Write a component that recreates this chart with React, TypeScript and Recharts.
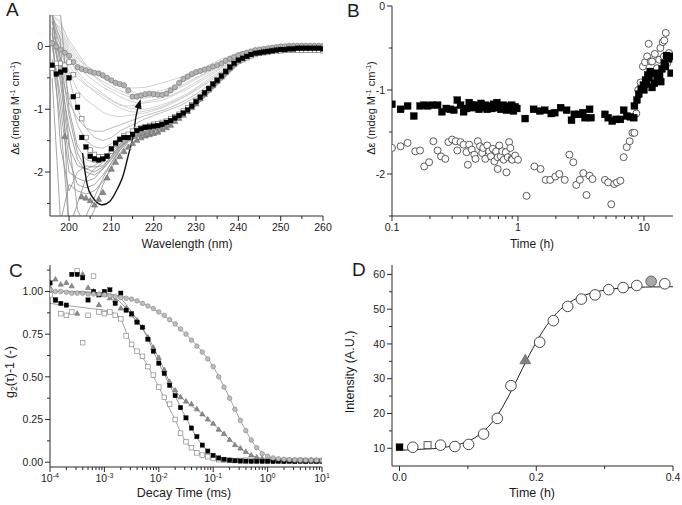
import React from 'react';
import { ComposedChart, Line, Scatter, XAxis, YAxis } from 'recharts';

const FONT = 'Arial, "Liberation Sans", sans-serif';
const AXIS = '#2a2a2a';
const TEXT = '#1c1c1c';

// ---------- Panel A: CD spectra ----------
const aGridWl = [196, 198, 200, 202, 204, 206, 208, 210, 212, 214, 216, 218, 220, 222, 224, 226, 228, 230, 233, 236, 240, 245, 250, 255, 260];
const aUpperLines = [
  [0.4, 0.3, 0.0, -0.2, -0.3, -0.4, -0.5, -0.55, -0.62, -0.7, -0.75, -0.75, -0.72, -0.7, -0.65, -0.6, -0.52, -0.45, -0.35, -0.25, -0.13, -0.05, -0.02, 0, 0],
  [0.5, 0.2, -0.1, -0.3, -0.45, -0.55, -0.65, -0.72, -0.8, -0.86, -0.9, -0.88, -0.85, -0.82, -0.78, -0.72, -0.65, -0.57, -0.45, -0.33, -0.18, -0.07, -0.02, 0, 0],
  [0.3, 0.1, -0.2, -0.4, -0.55, -0.65, -0.75, -0.85, -0.92, -0.98, -1.0, -1.0, -0.97, -0.93, -0.88, -0.82, -0.75, -0.66, -0.52, -0.38, -0.2, -0.08, -0.03, 0, 0],
  [0.5, 0.35, 0.1, -0.1, -0.3, -0.42, -0.5, -0.58, -0.62, -0.66, -0.66, -0.65, -0.62, -0.58, -0.54, -0.5, -0.45, -0.4, -0.3, -0.2, -0.1, -0.04, -0.01, 0, 0],
  [0.2, -0.1, -0.4, -0.7, -0.85, -0.95, -1.05, -1.1, -1.12, -1.1, -1.08, -1.06, -1.02, -0.98, -0.92, -0.85, -0.78, -0.7, -0.57, -0.42, -0.22, -0.09, -0.03, 0, 0],
  [0.5, 0.0, -0.3, -0.5, -0.62, -0.7, -0.78, -0.86, -0.94, -0.95, -0.93, -0.9, -0.88, -0.86, -0.8, -0.74, -0.68, -0.6, -0.48, -0.35, -0.18, -0.07, -0.02, 0, 0],
  [0.45, 0.25, -0.05, -0.25, -0.38, -0.48, -0.56, -0.63, -0.7, -0.76, -0.8, -0.8, -0.78, -0.75, -0.7, -0.64, -0.57, -0.5, -0.4, -0.28, -0.15, -0.06, -0.02, 0, 0],
  [0.35, 0.15, -0.15, -0.45, -0.6, -0.72, -0.82, -0.9, -0.98, -1.03, -1.05, -1.03, -1.0, -0.96, -0.9, -0.84, -0.77, -0.68, -0.55, -0.4, -0.21, -0.08, -0.03, 0, 0],
  [0.5, 0.4, 0.05, -0.15, -0.35, -0.48, -0.6, -0.68, -0.74, -0.8, -0.83, -0.82, -0.8, -0.76, -0.72, -0.66, -0.6, -0.52, -0.42, -0.3, -0.16, -0.06, -0.02, 0, 0],
];
const aMidLines = [
  [0.4, 0.0, -0.5, -1.0, -1.3, -1.45, -1.5, -1.45, -1.35, -1.28, -1.22, -1.15, -1.1, -1.05, -1.0, -0.95, -0.88, -0.8, -0.65, -0.48, -0.25, -0.1, -0.04, 0, 0],
  [0.3, -0.2, -0.8, -1.25, -1.5, -1.6, -1.62, -1.55, -1.45, -1.38, -1.32, -1.28, -1.25, -1.2, -1.15, -1.08, -1.0, -0.9, -0.72, -0.52, -0.28, -0.12, -0.05, -0.01, -0.02],
  [0.2, -0.4, -0.9, -1.15, -1.3, -1.35, -1.35, -1.3, -1.25, -1.2, -1.15, -1.1, -1.06, -1.02, -0.97, -0.91, -0.84, -0.76, -0.62, -0.46, -0.24, -0.1, -0.04, 0, 0],
];
const aLowerLines = [
  [0.2, -0.5, -1.3, -1.8, -2.0, -2.05, -1.95, -1.8, -1.6, -1.48, -1.42, -1.38, -1.33, -1.28, -1.2, -1.12, -1.02, -0.92, -0.72, -0.52, -0.26, -0.1, -0.04, -0.02, -0.03],
  [0.0, -0.8, -1.8, -2.2, -2.25, -2.2, -2.05, -1.85, -1.65, -1.5, -1.45, -1.4, -1.36, -1.3, -1.22, -1.14, -1.05, -0.95, -0.75, -0.55, -0.28, -0.11, -0.05, -0.02, -0.03],
  [0.4, -0.3, -1.5, -2.6, -2.9, -2.6, -2.2, -1.9, -1.65, -1.5, -1.43, -1.38, -1.33, -1.27, -1.2, -1.12, -1.03, -0.93, -0.73, -0.53, -0.27, -0.1, -0.04, -0.01, -0.02],
  [0.5, 0.1, -2.9, -2.5, -2.1, -1.95, -1.85, -1.7, -1.55, -1.45, -1.4, -1.35, -1.3, -1.25, -1.18, -1.1, -1.0, -0.9, -0.7, -0.5, -0.25, -0.1, -0.04, -0.02, -0.02],
  [-0.2, -1.2, -2.9, -2.9, -2.7, -2.4, -2.1, -1.85, -1.62, -1.48, -1.42, -1.37, -1.33, -1.27, -1.2, -1.12, -1.02, -0.92, -0.72, -0.52, -0.26, -0.1, -0.04, -0.02, -0.03],
  [0.5, 0.5, -1.0, -1.6, -1.8, -1.85, -1.8, -1.65, -1.5, -1.42, -1.38, -1.32, -1.28, -1.23, -1.16, -1.08, -0.98, -0.88, -0.68, -0.48, -0.24, -0.09, -0.03, 0, -0.01],
  [0.3, -1.6, -2.3, -2.0, -1.9, -1.92, -1.9, -1.75, -1.58, -1.47, -1.41, -1.36, -1.31, -1.26, -1.19, -1.11, -1.01, -0.91, -0.71, -0.51, -0.25, -0.1, -0.04, -0.01, -0.02],
  [0.1, -1.0, -2.0, -2.1, -2.15, -2.1, -1.95, -1.78, -1.6, -1.5, -1.44, -1.4, -1.35, -1.29, -1.21, -1.13, -1.04, -0.94, -0.74, -0.54, -0.27, -0.11, -0.05, -0.02, -0.03],
  [0.5, -0.6, -1.6, -1.9, -1.95, -1.9, -1.8, -1.66, -1.52, -1.44, -1.39, -1.34, -1.3, -1.24, -1.17, -1.09, -0.99, -0.89, -0.69, -0.49, -0.25, -0.1, -0.04, -0.01, -0.02],
  [-0.5, -2.8, -2.2, -2.3, -2.35, -2.3, -2.15, -1.95, -1.7, -1.52, -1.44, -1.39, -1.35, -1.29, -1.21, -1.13, -1.03, -0.93, -0.73, -0.53, -0.27, -0.11, -0.05, -0.02, -0.03],
  [0.5, -0.2, -1.1, -1.7, -1.95, -2.0, -1.92, -1.75, -1.56, -1.46, -1.41, -1.36, -1.32, -1.26, -1.19, -1.11, -1.01, -0.91, -0.71, -0.51, -0.26, -0.1, -0.04, -0.02, -0.02],
];
const aWl = [196, 197, 198, 199, 200, 201, 202, 203, 204, 205, 206, 207, 208, 209, 210, 211, 212, 213, 214, 215, 216, 217, 218, 219, 220, 221, 222, 223, 224, 225, 226, 227, 228, 229, 230, 231, 232, 233, 234, 235, 236, 237, 238, 239, 240, 241, 242, 243, 244, 245, 246, 247, 248, 249, 250, 251, 252, 253, 254, 255, 256, 257, 258, 259, 260];
const aBlackSq = [-0.3, -0.44, -0.41, -0.38, -0.5, -0.8, -0.97, -1.45, -1.6, -1.75, -1.79, -1.81, -1.79, -1.75, -1.63, -1.54, -1.48, -1.45, -1.45, -1.4, -1.34, -1.31, -1.29, -1.28, -1.27, -1.26, -1.24, -1.21, -1.18, -1.14, -1.1, -1.06, -1.01, -0.95, -0.88, -0.81, -0.74, -0.67, -0.6, -0.54, -0.47, -0.4, -0.33, -0.27, -0.22, -0.19, -0.16, -0.13, -0.11, -0.1, -0.09, -0.08, -0.07, -0.06, -0.05, -0.05, -0.04, -0.04, -0.03, -0.03, -0.03, -0.03, -0.03, -0.03, -0.04];
const aWhiteSq = [-0.35, -0.27, -0.27, -0.3, -0.25, -0.45, -0.78, -1.15, -1.45, -1.65, -1.72, -1.76, -1.76, -1.74, -1.67, -1.56, -1.48, -1.42, -1.4, -1.35, -1.32, -1.3, -1.28, -1.26, -1.24, -1.23, -1.21, -1.19, -1.15, -1.12, -1.08, -1.03, -0.98, -0.93, -0.87, -0.8, -0.74, -0.67, -0.6, -0.53, -0.46, -0.39, -0.33, -0.28, -0.24, -0.21, -0.18, -0.15, -0.13, -0.11, -0.1, -0.09, -0.08, -0.07, -0.07, -0.06, -0.06, -0.06, -0.06, -0.06, -0.06, -0.06, -0.06, -0.06, -0.07];
const aGrayCirc = [0.05, 0.0, -0.05, -0.1, -0.15, -0.25, -0.33, -0.36, -0.38, -0.4, -0.42, -0.43, -0.46, -0.5, -0.54, -0.58, -0.6, -0.62, -0.7, -0.8, -0.8, -0.78, -0.76, -0.75, -0.76, -0.77, -0.77, -0.75, -0.7, -0.65, -0.58, -0.52, -0.48, -0.44, -0.41, -0.39, -0.37, -0.35, -0.32, -0.3, -0.27, -0.23, -0.2, -0.17, -0.14, -0.12, -0.1, -0.08, -0.06, -0.05, -0.04, -0.03, -0.02, -0.01, 0, 0, 0.01, 0.01, 0.01, 0.01, 0.01, 0.01, 0.01, 0.01, 0.01];
const aTriWl = [199, 203, 204, 205, 206, 207, 208, 209, 210, 211, 212, 213, 214, 215, 216, 217, 218, 219, 220, 221, 222, 223, 224, 225, 226, 227, 228, 229, 230, 231, 232, 233, 234, 235, 236, 237, 238, 239, 240, 241, 242, 243, 244, 245, 246, 247, 248, 249, 250, 251, 252, 253, 254, 255, 256, 257, 258, 259, 260];
const aTri = [-1.44, -2.4, -2.42, -2.46, -2.53, -2.44, -2.33, -2.1, -1.96, -1.85, -1.76, -1.68, -1.61, -1.55, -1.5, -1.46, -1.43, -1.41, -1.39, -1.37, -1.33, -1.3, -1.26, -1.2, -1.15, -1.1, -1.04, -0.98, -0.92, -0.84, -0.77, -0.7, -0.63, -0.56, -0.49, -0.42, -0.35, -0.29, -0.24, -0.2, -0.17, -0.14, -0.12, -0.1, -0.09, -0.08, -0.07, -0.06, -0.05, -0.05, -0.04, -0.04, -0.04, -0.04, -0.04, -0.04, -0.04, -0.04, -0.04];
const aArrowWl = [203.2, 204.4, 206.0, 207.6, 209.6, 211.1, 212.7, 213.9, 215.1, 215.8, 216.6];
const aArrowVal = [-1.7, -2.23, -2.44, -2.52, -2.47, -2.31, -2.07, -1.76, -1.44, -1.12, -0.9];

// ---------- Panel B: CD signal vs time ----------
const bSqTime = [0.1, 0.117, 0.133, 0.149, 0.167, 0.18, 0.192, 0.208, 0.23, 0.249, 0.27, 0.29, 0.31, 0.33, 0.35, 0.37, 0.39, 0.41, 0.43, 0.44, 0.46, 0.48, 0.49, 0.51, 0.53, 0.55, 0.57, 0.6, 0.62, 0.64, 0.66, 0.68, 0.71, 0.73, 0.76, 0.78, 0.81, 0.84, 0.87, 0.89, 0.92, 0.95, 0.98, 1.14, 1.33, 1.49, 1.63, 1.84, 1.96, 2.18, 2.43, 2.66, 2.8, 3.03, 3.27, 3.4, 3.7, 3.8, 4.9, 5.2, 5.6, 6.0, 6.5, 6.9, 7.3, 7.8, 8.3, 8.4, 8.8, 9.1, 9.5, 9.9, 10.0, 10.3, 10.5, 10.7, 11.0, 11.2, 11.6, 12.1, 12.4, 12.7, 13.3, 13.6, 13.9, 14.5, 14.8, 15.1, 15.7, 16.0, 16.4];
const bSqVal = [-1.17, -1.23, -1.19, -1.31, -1.19, -1.18, -1.19, -1.18, -1.18, -1.26, -1.22, -1.23, -1.24, -1.12, -1.18, -1.26, -1.22, -1.15, -1.18, -1.21, -1.18, -1.19, -1.23, -1.16, -1.21, -1.18, -1.23, -1.19, -1.22, -1.17, -1.21, -1.15, -1.2, -1.23, -1.18, -1.21, -1.24, -1.19, -1.22, -1.18, -1.25, -1.2, -1.22, -1.34, -1.23, -1.25, -1.24, -1.28, -1.27, -1.21, -1.24, -1.36, -1.29, -1.29, -1.27, -1.33, -1.23, -1.33, -1.29, -1.33, -1.37, -1.35, -1.35, -1.24, -1.31, -1.32, -1.33, -1.19, -1.12, -1.05, -0.99, -0.94, -1.0, -0.88, -0.93, -0.82, -0.85, -0.78, -0.97, -0.92, -0.8, -0.87, -0.82, -0.9, -0.75, -0.68, -0.72, -0.59, -0.63, -0.6, -0.8];
const bCiTime = [0.1, 0.117, 0.133, 0.153, 0.167, 0.18, 0.197, 0.213, 0.23, 0.245, 0.265, 0.28, 0.3, 0.32, 0.33, 0.35, 0.37, 0.39, 0.4, 0.41, 0.43, 0.45, 0.46, 0.48, 0.5, 0.52, 0.53, 0.55, 0.57, 0.59, 0.61, 0.63, 0.65, 0.67, 0.69, 0.69, 0.71, 0.73, 0.75, 0.77, 0.8, 0.81, 0.83, 0.85, 0.87, 0.89, 0.9, 0.95, 1.0, 1.17, 1.35, 1.51, 1.66, 1.8, 1.98, 2.13, 2.35, 2.56, 2.75, 2.9, 3.1, 3.3, 3.5, 3.7, 3.9, 4.9, 5.2, 5.5, 5.8, 6.1, 6.5, 6.9, 7.3, 7.7, 8.1, 8.4, 8.7, 9.0, 9.4, 9.8, 10.2, 10.6, 10.9, 11.3, 11.6, 12.2, 12.7, 13.2, 13.5, 14.1, 14.4, 14.5, 14.9, 15.3, 15.8];
const bCiVal = [-1.69, -1.67, -1.63, -1.73, -1.72, -1.91, -1.86, -1.61, -1.72, -1.79, -1.82, -1.62, -1.59, -1.61, -1.72, -1.62, -1.65, -1.74, -1.89, -1.65, -1.71, -1.77, -1.82, -1.61, -1.67, -1.75, -1.69, -1.82, -1.66, -1.73, -1.79, -1.7, -1.85, -1.73, -1.8, -1.94, -1.66, -1.79, -1.73, -1.83, -1.74, -1.98, -1.8, -1.62, -1.69, -1.82, -1.83, -1.78, -1.83, -2.26, -1.91, -1.94, -2.07, -2.07, -2.03, -2.0, -2.07, -1.77, -1.86, -2.13, -2.07, -1.99, -2.25, -2.02, -2.06, -2.07, -2.1, -2.36, -2.12, -2.1, -2.08, -1.8, -1.68, -1.61, -1.51, -1.51, -1.28, -1.0, -0.91, -0.72, -0.67, -0.6, -0.45, -0.66, -0.66, -0.57, -0.74, -0.64, -0.5, -0.43, -0.6, -0.41, -0.32, -0.68, -0.56];

// ---------- Panel C: DLS correlation ----------
const cTau = [0.0001, 0.000126, 0.000158, 0.0002, 0.000251, 0.000316, 0.000398, 0.000501, 0.000631, 0.000794, 0.001, 0.00126, 0.00158, 0.002, 0.00251, 0.00316, 0.00398, 0.00501, 0.00631, 0.00794, 0.01, 0.0126, 0.0158, 0.02, 0.0251, 0.0316, 0.0398, 0.0501, 0.0631, 0.0794, 0.1, 0.126, 0.158, 0.2, 0.251, 0.316, 0.398, 0.501, 0.631, 0.794, 1, 1.26, 1.58, 2, 2.51, 3.16, 3.98, 5.01, 6.31, 7.94, 10];
const cGrayCirc = [1.01, 1.0, 1.0, 0.995, 0.99, 0.99, 0.99, 0.985, 0.985, 0.985, 0.98, 0.975, 0.97, 0.965, 0.96, 0.955, 0.945, 0.93, 0.915, 0.9, 0.88, 0.86, 0.835, 0.81, 0.78, 0.75, 0.715, 0.68, 0.645, 0.605, 0.56, 0.5, 0.44, 0.375, 0.31, 0.245, 0.185, 0.13, 0.085, 0.05, 0.035, 0.025, 0.02, 0.017, 0.015, 0.013, 0.012, 0.012, 0.011, 0.011, 0.01];
const cBlackSq = [1.05, 0.95, 0.93, 0.92, 1.1, 1.1, 1.08, 0.95, 1.0, 0.98, 1.0, 1.01, 0.93, 0.99, 0.89, 0.87, 0.82, 0.79, 0.72, 0.65, 0.58, 0.52, 0.45, 0.39, 0.32, 0.26, 0.2, 0.15, 0.1, 0.065, 0.04, 0.025, 0.017, 0.012, 0.009, 0.007, 0.006, 0.005, 0.005, 0.005, 0.005, 0.004, 0.005, 0.004, 0.005, 0.004, 0.005, 0.004, 0.005, 0.004, 0.005];
const cTri = [1.02, 1.07, 1.04, 1.05, 1.03, 0.87, 1.1, 1.02, 1.0, 0.92, 0.98, 0.96, 0.95, 0.9, 0.9, 0.86, 0.83, 0.79, 0.73, 0.67, 0.61, 0.54, 0.47, 0.42, 0.38, 0.355, 0.34, 0.31, 0.28, 0.25, 0.225, 0.19, 0.165, 0.13, 0.1, 0.08, 0.06, 0.04, 0.028, 0.02, 0.015, 0.012, 0.011, 0.01, 0.01, 0.011, 0.01, 0.01, 0.011, 0.01, 0.01];
const cWhiteSq = [0.98, 0.95, 0.87, 0.86, 0.88, 1.12, 0.7, 0.86, 1.09, 0.88, 0.87, 0.88, 0.86, 0.84, 0.74, 0.69, 0.65, 0.62, 0.56, 0.51, 0.44, 0.38, 0.34, 0.25, 0.17, 0.12, 0.085, 0.055, 0.042, 0.032, 0.022, 0.015, 0.012, 0.011, 0.01, 0.01, 0.012, 0.01, 0.011, 0.01, 0.01, 0.012, 0.01, 0.011, 0.01, 0.01, 0.012, 0.01, 0.011, 0.01, 0.01];
const cFitTau = [0.0001, 0.000178, 0.000316, 0.000562, 0.001, 0.00178, 0.00316, 0.00562, 0.01, 0.0178, 0.0316, 0.0562, 0.1, 0.178, 0.316, 0.562, 1, 1.78, 3.16, 5.62, 10];
const cFitCirc = [1.0, 1.0, 0.995, 0.99, 0.985, 0.975, 0.955, 0.925, 0.88, 0.82, 0.75, 0.665, 0.56, 0.41, 0.245, 0.105, 0.035, 0.012, 0.01, 0.01, 0.01];
const cFitSq = [1.0, 1.0, 1.0, 0.995, 0.99, 0.97, 0.88, 0.755, 0.58, 0.42, 0.26, 0.12, 0.04, 0.015, 0.008, 0.005, 0.005, 0.005, 0.005, 0.005, 0.005];
const cFitTri = [1.0, 1.0, 1.0, 0.99, 0.98, 0.95, 0.86, 0.76, 0.61, 0.44, 0.355, 0.295, 0.225, 0.15, 0.08, 0.034, 0.015, 0.01, 0.01, 0.01, 0.01];
const cFitWhite = [0.93, 0.92, 0.91, 0.9, 0.89, 0.86, 0.69, 0.59, 0.44, 0.28, 0.12, 0.048, 0.022, 0.012, 0.01, 0.01, 0.01, 0.01, 0.01, 0.01, 0.01];

// ---------- Panel D: intensity vs time ----------
const dCircTime = [0.0194, 0.06, 0.081, 0.101, 0.123, 0.143, 0.163, 0.205, 0.225, 0.246, 0.266, 0.286, 0.306, 0.327, 0.347, 0.388];
const dCircVal = [10.3, 10.9, 10.5, 11.1, 14.1, 18.6, 28.0, 40.5, 46.7, 50.8, 52.9, 54.1, 55.6, 56.2, 56.8, 57.3];
const dBlackSq = [{ x: 0, y: 10.3 }];
const dWhiteSq = [{ x: 0.041, y: 10.9 }];
const dTri = [{ x: 0.184, y: 35.2 }];
const dGrayCirc = [{ x: 0.368, y: 58.0 }];
const dFitTime = [0, 0.01, 0.02, 0.03, 0.04, 0.05, 0.06, 0.07, 0.08, 0.09, 0.1, 0.11, 0.12, 0.13, 0.14, 0.15, 0.16, 0.17, 0.18, 0.19, 0.2, 0.21, 0.22, 0.23, 0.24, 0.25, 0.26, 0.27, 0.28, 0.29, 0.3, 0.31, 0.32, 0.33, 0.34, 0.35, 0.36, 0.37, 0.38, 0.39, 0.4];
const dFitVal = [9.5, 9.5, 9.6, 9.7, 9.8, 9.9, 10.1, 10.4, 10.8, 11.3, 12.0, 13.0, 14.4, 16.2, 18.6, 21.6, 25.2, 29.0, 33.0, 36.9, 40.5, 43.8, 46.6, 48.9, 50.7, 52.1, 53.2, 54.0, 54.6, 55.1, 55.5, 55.8, 56.0, 56.1, 56.2, 56.3, 56.35, 56.4, 56.4, 56.45, 56.45];

// tick lists
const aXTicks = [200, 205, 210, 215, 220, 225, 230, 235, 240, 245, 250, 255, 260];
const aXMajor = [200, 210, 220, 230, 240, 250, 260];
const aYTicks = [-2.5, -2, -1.5, -1, -0.5, 0];
const aYMajor = [-2, -1, 0];
const bXMajor = [0.1, 1, 10];
const bXTicks = [0.1, 0.2, 0.3, 0.4, 0.5, 0.6, 0.7, 0.8, 0.9, 1, 2, 3, 4, 5, 6, 7, 8, 9, 10];
const bYTicks = [-2.5, -2, -1.5, -1, -0.5, 0];
const bYMajor = [-2, -1, 0];
const cDecades = [0.0001, 0.001, 0.01, 0.1, 1];
const cXMajor = [0.0001, 0.001, 0.01, 0.1, 1, 10];
const cXExp: Record<string, string> = { '0.0001': '-4', '0.001': '-3', '0.01': '-2', '0.1': '-1', '1': '0', '10': '1' };
const cXTicks = [...cDecades.flatMap((d) => [1, 2, 3, 4, 5, 6, 7, 8, 9].map((m) => +(d * m).toPrecision(3))), 10];
const cYTicks = [0, 0.125, 0.25, 0.375, 0.5, 0.625, 0.75, 0.875, 1, 1.125];
const cYMajor = [0, 0.25, 0.5, 0.75, 1];
const dXTicks = [0, 0.1, 0.2, 0.3, 0.4];
const dXMajor = [0, 0.2, 0.4];
const dYTicks = [10, 15, 20, 25, 30, 35, 40, 45, 50, 55, 60];
const dYMajor = [10, 20, 30, 40, 50, 60];

const pts = (xs: number[], ys: number[]) => xs.map((x, i) => ({ x, y: ys[i] }));

const bottomTick = (major: number[], fmt: (v: number) => React.ReactNode) => (p: any) => {
  const v = p.payload.value;
  const isMajor = major.includes(v);
  return (
    <g>
      <line x1={p.x} x2={p.x} y1={p.y} y2={p.y + (isMajor ? 5 : 3)} stroke={AXIS} strokeWidth={1} />
      {isMajor && (
        <text x={p.x} y={p.y + 15} textAnchor="middle" fontSize={10.5} fill={TEXT} fontFamily={FONT}>
          {fmt(v)}
        </text>
      )}
    </g>
  );
};

const leftTick = (major: number[], fmt: (v: number) => string) => (p: any) => {
  const v = p.payload.value;
  const isMajor = major.includes(v);
  return (
    <g>
      <line x1={p.x} x2={p.x - (isMajor ? 5 : 3)} y1={p.y} y2={p.y} stroke={AXIS} strokeWidth={1} />
      {isMajor && (
        <text x={p.x - 7} y={p.y + 3.7} textAnchor="end" fontSize={10.5} fill={TEXT} fontFamily={FONT}>
          {fmt(v)}
        </text>
      )}
    </g>
  );
};

const square = (s: number, fill: string, stroke: string, sw = 0.7) => (p: any) => (
  <rect x={p.cx - s / 2} y={p.cy - s / 2} width={s} height={s} fill={fill} stroke={stroke} strokeWidth={sw} />
);
const circle = (r: number, fill: string, stroke: string, sw = 0.7) => (p: any) => (
  <circle cx={p.cx} cy={p.cy} r={r} fill={fill} stroke={stroke} strokeWidth={sw} />
);
const triangle = (s: number, fill: string, stroke: string) => (p: any) => {
  const h = s * 0.866;
  return (
    <polygon
      points={`${p.cx},${p.cy - (h * 2) / 3} ${p.cx - s / 2},${p.cy + h / 3} ${p.cx + s / 2},${p.cy + h / 3}`}
      fill={fill}
      stroke={stroke}
      strokeWidth={0.6}
    />
  );
};
const arrowHead = (p: any) => (
  <polygon
    points="0,0 -3.6,9.5 3.6,9.5"
    transform={`translate(${p.cx},${p.cy}) rotate(16)`}
    fill="#111"
  />
);

const axisProps = { axisLine: { stroke: AXIS, strokeWidth: 1 }, tickLine: false, tickSize: 0, tickMargin: 0, interval: 0 as const };

const PanelA = () => (
  <ComposedChart width={341} height={250} margin={{ top: 15, right: 18, left: 0, bottom: 0 }}>
    <XAxis type="number" dataKey="x" domain={[195.5, 260]} ticks={aXTicks} height={34} allowDataOverflow
      tick={bottomTick(aXMajor, (v) => String(v))} {...axisProps} />
    <YAxis type="number" dataKey="y" domain={[-2.7, 0.5]} ticks={aYTicks} width={50} allowDataOverflow
      tick={leftTick(aYMajor, (v) => String(v))} {...axisProps} />
    {aUpperLines.map((l, i) => (
      <Line key={'u' + i} data={pts(aGridWl, l)} dataKey="y" stroke="#c6c6c6" strokeWidth={0.8} dot={false} isAnimationActive={false} />
    ))}
    {aMidLines.map((l, i) => (
      <Line key={'m' + i} data={pts(aGridWl, l)} dataKey="y" stroke="#ababab" strokeWidth={0.8} dot={false} isAnimationActive={false} />
    ))}
    {aLowerLines.map((l, i) => (
      <Line key={'d' + i} data={pts(aGridWl, l)} dataKey="y" stroke="#8e8e8e" strokeWidth={0.8} dot={false} isAnimationActive={false} />
    ))}
    <Scatter data={pts(aWl, aGrayCirc)} shape={circle(2.6, '#b4b4b4', '#7c7c7c')} isAnimationActive={false} />
    <Scatter data={pts(aTriWl, aTri)} shape={triangle(6, '#8a8a8a', '#6a6a6a')} isAnimationActive={false} />
    <Scatter data={pts(aWl, aWhiteSq)} shape={square(4.6, '#ffffff', '#777777')} isAnimationActive={false} />
    <Scatter data={pts(aWl, aBlackSq)} shape={square(4.8, '#000000', '#000000', 0.3)} isAnimationActive={false} />
    <Line data={pts(aArrowWl, aArrowVal)} dataKey="y" type="natural" stroke="#111" strokeWidth={1.4} dot={false} isAnimationActive={false} />
    <Scatter data={[{ x: aArrowWl[aArrowWl.length - 1] + 0.3, y: aArrowVal[aArrowVal.length - 1] + 0.06 }]} shape={arrowHead} isAnimationActive={false} />
  </ComposedChart>
);

const PanelB = () => (
  <ComposedChart width={341} height={250} margin={{ top: 6, right: 9, left: 0, bottom: 0 }}>
    <XAxis type="number" dataKey="x" scale="log" domain={[0.1, 17]} ticks={bXTicks} height={34} allowDataOverflow
      tick={bottomTick(bXMajor, (v) => String(v))} {...axisProps} />
    <YAxis type="number" dataKey="y" domain={[-2.5, 0]} ticks={bYTicks} width={51} allowDataOverflow
      tick={leftTick(bYMajor, (v) => String(v))} {...axisProps} />
    <Scatter data={pts(bCiTime, bCiVal)} shape={circle(3.5, '#ffffff', '#333333', 0.8)} isAnimationActive={false} />
    <Scatter data={pts(bSqTime, bSqVal)} shape={square(7, '#000000', '#000000', 0.3)} isAnimationActive={false} />
  </ComposedChart>
);

const PanelC = () => (
  <ComposedChart width={341} height={255} margin={{ top: 15, right: 19, left: 0, bottom: 0 }}>
    <XAxis type="number" dataKey="x" scale="log" domain={[0.0001, 10]} ticks={cXTicks} height={38} allowDataOverflow
      tick={bottomTick(cXMajor, (v) => (
        <>
          10<tspan dy={-4.5} fontSize={7}>{cXExp[String(v)]}</tspan>
        </>
      ))} {...axisProps} />
    <YAxis type="number" dataKey="y" domain={[-0.028, 1.155]} ticks={cYTicks} width={50} allowDataOverflow
      tick={leftTick(cYMajor, (v) => v.toFixed(2))} {...axisProps} />
    <Scatter data={pts(cTau, cWhiteSq)} shape={square(4.6, '#ffffff', '#8a8a8a')} isAnimationActive={false} />
    <Scatter data={pts(cTau, cTri)} shape={triangle(5.2, '#8c8c8c', '#6c6c6c')} isAnimationActive={false} />
    <Scatter data={pts(cTau, cBlackSq)} shape={square(4.4, '#000000', '#000000', 0.3)} isAnimationActive={false} />
    <Scatter data={pts(cTau, cGrayCirc)} shape={circle(2.3, '#bdbdbd', '#858585', 0.6)} isAnimationActive={false} />
    <Line data={pts(cFitTau, cFitWhite)} dataKey="y" type="monotone" stroke="#8a8a8a" strokeWidth={0.8} dot={false} isAnimationActive={false} />
    <Line data={pts(cFitTau, cFitTri)} dataKey="y" type="monotone" stroke="#777" strokeWidth={0.8} dot={false} isAnimationActive={false} />
    <Line data={pts(cFitTau, cFitSq)} dataKey="y" type="monotone" stroke="#777" strokeWidth={0.8} dot={false} isAnimationActive={false} />
    <Line data={pts(cFitTau, cFitCirc)} dataKey="y" type="monotone" stroke="#888" strokeWidth={0.8} dot={false} isAnimationActive={false} />
  </ComposedChart>
);

const PanelD = () => (
  <ComposedChart width={341} height={255} margin={{ top: 15, right: 9, left: 0, bottom: 0 }}>
    <XAxis type="number" dataKey="x" domain={[-0.011, 0.4]} ticks={dXTicks} height={39} allowDataOverflow
      tick={bottomTick(dXMajor, (v) => v.toFixed(1))} {...axisProps} />
    <YAxis type="number" dataKey="y" domain={[4.9, 62.7]} ticks={dYTicks} width={51} allowDataOverflow
      tick={leftTick(dYMajor, (v) => String(v))} {...axisProps} />
    <Line data={pts(dFitTime, dFitVal)} dataKey="y" type="monotone" stroke="#222" strokeWidth={1} dot={false} isAnimationActive={false} />
    <Scatter data={pts(dCircTime, dCircVal)} shape={circle(5.3, '#ffffff', '#333333', 0.9)} isAnimationActive={false} />
    <Scatter data={dBlackSq} shape={square(7, '#000000', '#000000', 0.3)} isAnimationActive={false} />
    <Scatter data={dWhiteSq} shape={square(7, '#ffffff', '#444444', 0.9)} isAnimationActive={false} />
    <Scatter data={dTri} shape={triangle(11, '#808080', '#555555')} isAnimationActive={false} />
    <Scatter data={dGrayCirc} shape={circle(5.3, '#a8a8a8', '#555555', 0.9)} isAnimationActive={false} />
  </ComposedChart>
);

const sup = (t: string) => (
  <>
    <tspan dy={-4.5} fontSize={7.5}>{t}</tspan>
    <tspan dy={4.5}> </tspan>
  </>
);

export default function App() {
  return (
    <div style={{ position: 'absolute', left: 0, top: 0, width: 682, height: 505, background: '#fff', fontFamily: FONT }}>
      <div style={{ position: 'absolute', left: 0, top: 0 }}><PanelA /></div>
      <div style={{ position: 'absolute', left: 341, top: 0 }}><PanelB /></div>
      <div style={{ position: 'absolute', left: 0, top: 250 }}><PanelC /></div>
      <div style={{ position: 'absolute', left: 341, top: 250 }}><PanelD /></div>
      <svg width={682} height={505} style={{ position: 'absolute', left: 0, top: 0, pointerEvents: 'none' }} fontFamily={FONT} fill={TEXT}>
        <text x={6} y={16} fontSize={19}>A</text>
        <text x={347} y={17} fontSize={19}>B</text>
        <text x={9} y={277} fontSize={19}>C</text>
        <text x={352} y={276} fontSize={19}>D</text>

        <text x={187} y={248} fontSize={12} textAnchor="middle">Wavelength (nm)</text>
        <text x={532} y={248} fontSize={12} textAnchor="middle">Time (h)</text>
        <text x={184} y={497} fontSize={12.5} textAnchor="middle">Decay Time (ms)</text>
        <text x={532} y={497} fontSize={12.5} textAnchor="middle">Time (h)</text>

        <text transform="translate(19,108) rotate(-90)" fontSize={11} textAnchor="middle">
          Δε (mdeg M{sup('-1')}cm<tspan dy={-4.5} fontSize={7.5}>-1</tspan><tspan dy={4.5}>)</tspan>
        </text>
        <text transform="translate(375,108) rotate(-90)" fontSize={11} textAnchor="middle">
          Δε (mdeg M{sup('-1')}cm<tspan dy={-4.5} fontSize={7.5}>-1</tspan><tspan dy={4.5}>)</tspan>
        </text>
        <text transform="translate(14,372) rotate(-90)" fontSize={12.5} textAnchor="middle">
          g<tspan dy={3} fontSize={8.5}>2</tspan><tspan dy={-3}>(τ)-1 (-)</tspan>
        </text>
        <text transform="translate(354,372) rotate(-90)" fontSize={12.5} textAnchor="middle">Intensity (A.U.)</text>
      </svg>
    </div>
  );
}
